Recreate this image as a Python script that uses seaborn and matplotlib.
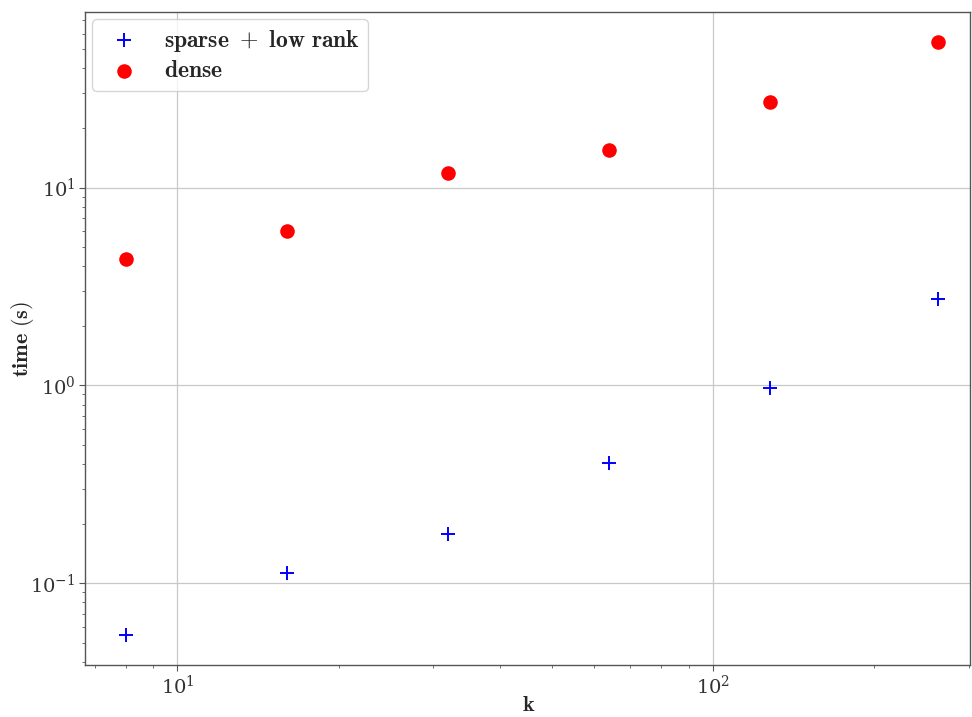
import matplotlib
matplotlib.use("Agg")
import matplotlib.pyplot as plt
import seaborn as sns
import pandas as pd

k = [8, 16, 32, 64, 128, 263]
sparse_low_rank = [0.0546, 0.112, 0.177, 0.404, 0.966, 2.72]
dense = [4.33, 6.0, 11.9, 15.4, 27.2, 54.6]
labels = [r"$\mathbf{sparse\ +\ low\ rank}$", r"$\mathbf{dense}$"]

sns.set_style("ticks")
plt.rcParams["mathtext.fontset"] = "cm"
plt.rcParams["font.family"] = ["DejaVu Serif"]

fig = plt.figure(figsize=(9.72, 7.17), dpi=100)
ax = fig.add_axes([0.0875, 0.0725, 0.9105, 0.9105])

df_s = pd.DataFrame({"k": k, "t": sparse_low_rank})
df_d = pd.DataFrame({"k": k, "t": dense})
sns.scatterplot(data=df_s, x="k", y="t", marker="+", color="blue", s=110,
                linewidth=1.4, label=labels[0], ax=ax, zorder=3)
sns.scatterplot(data=df_d, x="k", y="t", marker="o", color="red", s=110,
                edgecolor="red", linewidth=0, label=labels[1], ax=ax, zorder=3)

ax.set_xscale("log")
ax.set_yscale("log")
ax.set_xlim(6.72, 302)
ax.set_ylim(0.0386, 77)
ax.grid(True, which="major", color="#c8c8c8", linewidth=0.9)
ax.set_axisbelow(True)
for sp in ax.spines.values():
    sp.set_color("#555555")
    sp.set_linewidth(1.0)
ax.tick_params(which="both", colors="#555555", labelcolor="#333333")
ax.tick_params(which="major", length=4, labelsize=14, pad=3)
ax.tick_params(which="minor", length=2)

ax.set_xlabel(r"$\mathbf{k}$", fontsize=16)
ax.set_ylabel(r"$\mathbf{time\ (s)}$", fontsize=16)
ax.xaxis.set_label_coords(0.501, -0.061)
ax.yaxis.set_label_coords(-0.071, 0.5)
ax.xaxis.label.set_verticalalignment("center")
ax.yaxis.label.set_verticalalignment("center")

leg = ax.legend(loc="upper left", fontsize=17, frameon=True, fancybox=True,
                framealpha=0.8, edgecolor="#cccccc", handletextpad=0.7,
                borderpad=0.35, labelspacing=0.25, borderaxespad=0.3)

fig.savefig("out.png", dpi=100)
